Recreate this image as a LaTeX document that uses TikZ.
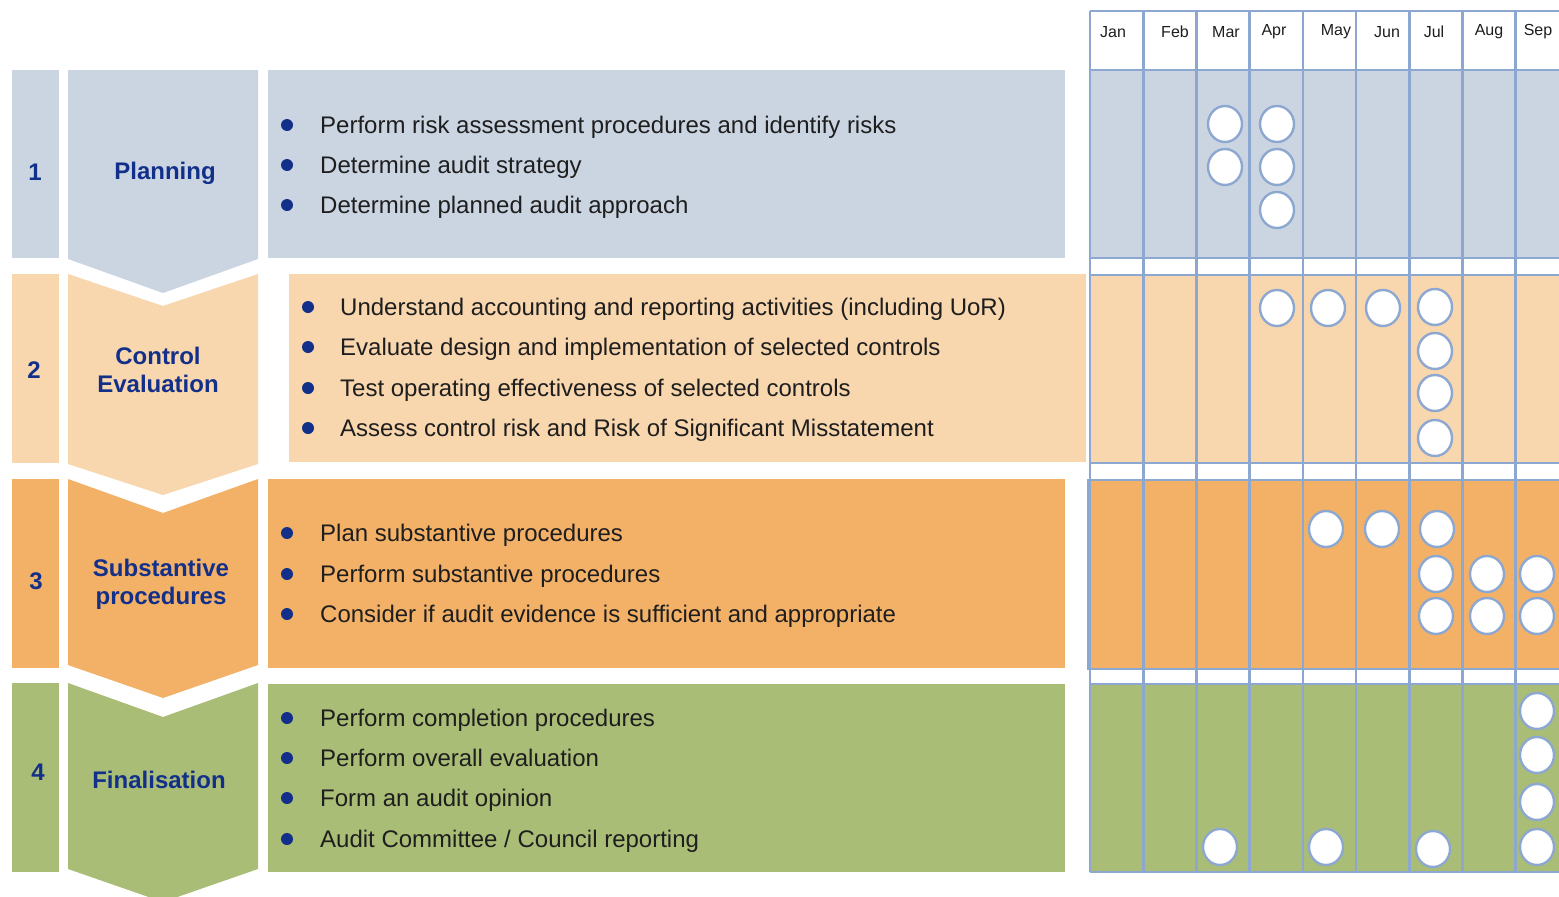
\documentclass[tikz,border=0pt]{standalone}
\usepackage{fontspec}
\setmainfont{Liberation Sans}
\usetikzlibrary{shapes.geometric}
\definecolor{bandA}{HTML}{CBD5E2}
\definecolor{bandB}{HTML}{F8D6AE}
\definecolor{bandC}{HTML}{F3B168}
\definecolor{bandD}{HTML}{AABD76}
\definecolor{navy}{HTML}{12308A}
\definecolor{gridline}{HTML}{8DA8D0}
\definecolor{bodytext}{HTML}{1E1E1E}

\begin{document}
\begin{tikzpicture}[x=1pt,y=-1pt,
  stagetitle/.style={font=\fontsize{24}{28}\selectfont\bfseries, text=navy, align=center, inner sep=0pt},
  stagenum/.style={font=\fontsize{24}{28}\selectfont\bfseries, text=navy, inner sep=0pt},
  item/.style={anchor=base west, font=\fontsize{24}{28}\selectfont, text=bodytext, inner sep=0pt},
  bulletdot/.style={circle, fill=navy, minimum size=12pt, inner sep=0pt},
  month/.style={font=\fontsize{16}{19}\selectfont, text=bodytext, inner sep=0pt},
  slot/.style={ellipse, draw=gridline, fill=white, line width=2.4pt, minimum width=34pt, minimum height=36pt, inner sep=0pt},
  gridrule/.style={draw=gridline, line width=2.6pt}]
\clip (0,0) rectangle (1559,897);
\fill[white] (0,0) rectangle (1559,897);

% ---- stage numbers ----
\fill[bandA] (12,70) rectangle (59,258);
\fill[bandB] (12,274) rectangle (59,463);
\fill[bandC] (12,479) rectangle (59,668);
\fill[bandD] (12,683) rectangle (59,872);
\node[stagenum] (n1) at (35,172) {1};
\node[stagenum] (n2) at (34,370) {2};
\node[stagenum] (n3) at (36,581) {3};
\node[stagenum] (n4) at (38,772) {4};

% ---- chevrons ----
\fill[bandA] (68,70) -- (258,70) -- (258,259) -- (163,293) -- (68,259) -- cycle;
\fill[bandB] (68,274) -- (163,306) -- (258,274) -- (258,464) -- (163,495) -- (68,464) -- cycle;
\fill[bandC] (68,479) -- (163,513) -- (258,479) -- (258,665) -- (163,698) -- (68,665) -- cycle;
\fill[bandD] (68,683) -- (163,717) -- (258,683) -- (258,869) -- (163,902) -- (68,869) -- cycle;
\node[stagetitle] (s1) at (165,173) {Planning};
\node[stagetitle] (s2) at (158,370) {Control\\Evaluation};
\node[stagetitle] (s3) at (161,584) {Substantive\\procedures};
\node[stagetitle] (s4) at (159,780) {Finalisation};

% ---- activity panels ----
\fill[bandA] (268,70) rectangle (1065,258);
\fill[bandB] (289,274) rectangle (1086,462);
\fill[bandC] (268,479) rectangle (1065,668);
\fill[bandD] (268,684) rectangle (1065,872);

\foreach \y/\t [count=\k] in {125/{Perform risk assessment procedures and identify risks},
  165/{Determine audit strategy},
  205/{Determine planned audit approach}}{
  \node[bulletdot] (b1\k) at (287,\y) {};
  \node[item] (i1\k) at (320,\y+8.5) {\t};
}
\foreach \y/\t [count=\k] in {307/{Understand accounting and reporting activities (including UoR)},
  347/{Evaluate design and implementation of selected controls},
  388/{Test operating effectiveness of selected controls},
  428/{Assess control risk and Risk of Significant Misstatement}}{
  \node[bulletdot] (b2\k) at (308,\y) {};
  \node[item] (i2\k) at (340,\y+8.5) {\t};
}
\foreach \y/\t [count=\k] in {533/{Plan substantive procedures},
  574/{Perform substantive procedures},
  614/{Consider if audit evidence is sufficient and appropriate}}{
  \node[bulletdot] (b3\k) at (287,\y) {};
  \node[item] (i3\k) at (320,\y+8.5) {\t};
}
\foreach \y/\t [count=\k] in {718/{Perform completion procedures},
  758/{Perform overall evaluation},
  798/{Form an audit opinion},
  839/{Audit Committee / Council reporting}}{
  \node[bulletdot] (b4\k) at (287,\y) {};
  \node[item] (i4\k) at (320,\y+8.5) {\t};
}

% ---- timeline grid ----
\fill[bandA] (1090,70) rectangle (1575,258);
\fill[bandB] (1090,275) rectangle (1575,463);
\fill[bandC] (1090,480) rectangle (1575,669);
\fill[bandD] (1090,684) rectangle (1575,872);
\foreach \y in {11,70,258,275,463,480,669,684,872}
  \draw[gridrule] (1090,\y) -- (1575,\y);
\foreach \i in {0,...,9}
  \draw[gridrule] ({1090+53.2*\i},11) -- ({1090+53.2*\i},872);
\draw[gridrule] (1088,479) -- (1088,670);

\foreach \x/\m in {1113/Jan,1175/Feb,1226/Mar,1274/Apr,1336/May,1387/Jun,1434/Jul,1489/Aug,1538/Sep}
  \node[month] (m\m) at (\x,32) {\m};

% ---- scheduled activity markers ----
\foreach \x/\y [count=\k] in {
  1225/124,1225/167,1277/124,1277/167,1277/210,
  1277/308,1328/308,1383/308,1435/307,1435/351,1435/393,1435/438,
  1326/529,1382/529,1437/529,1436/574,1436/616,1487/574,1487/616,1537/574,1537/616,
  1537/711,1537/755,1537/802,1537/847,1220/847,1326/847,1433/849}
  \node[slot] (c\k) at (\x,\y) {};
\end{tikzpicture}
\end{document}
